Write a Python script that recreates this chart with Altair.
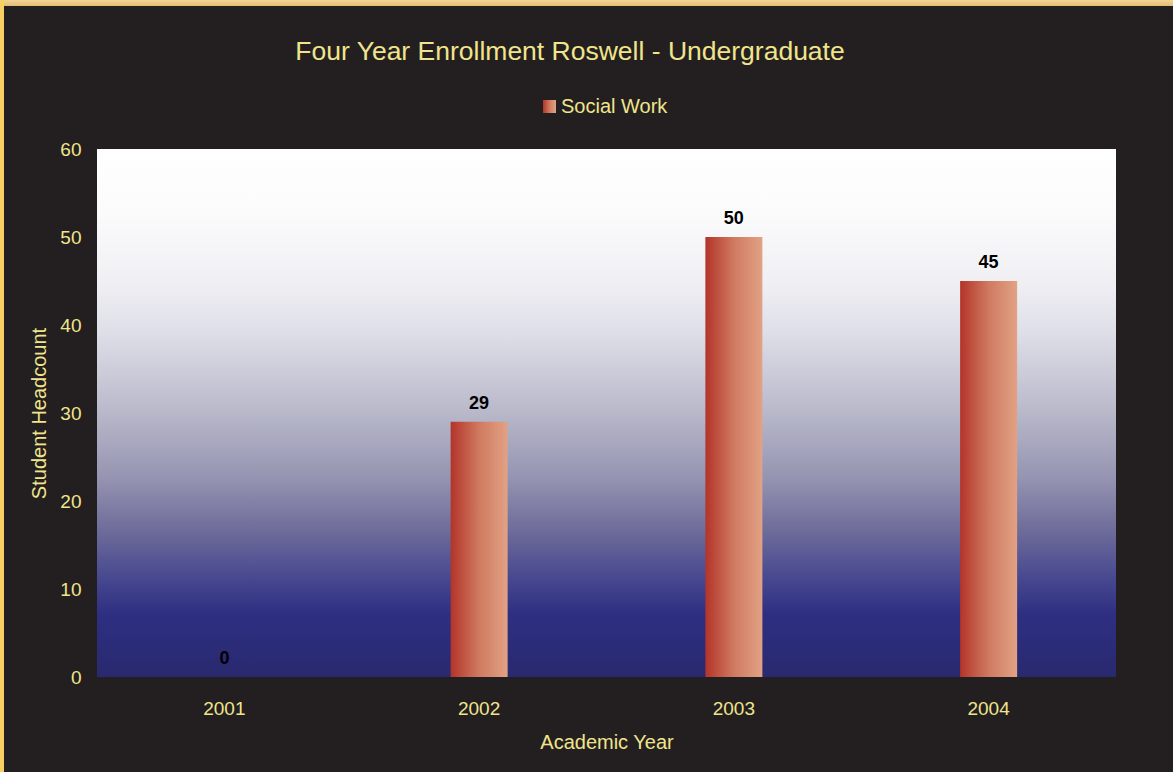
import altair as alt
import pandas as pd

years = ["2001", "2002", "2003", "2004"]
headcount = [0, 29, 50, 45]
series_name = "Social Work"
chart_title = "Four Year Enrollment Roswell - Undergraduate"

df = pd.DataFrame({"year": years, "count": headcount})

W, H = 1019, 528
FONT = "Liberation Sans"
TXT = "#f0e48c"

bg_grad = alt.LinearGradient(
    gradient="linear", x1=0, y1=0, x2=0, y2=1,
    stops=[
        alt.GradientStop(offset=0.0, color="#ffffff"),
        alt.GradientStop(offset=0.12, color="#fbfbfc"),
        alt.GradientStop(offset=0.25, color="#f0f0f4"),
        alt.GradientStop(offset=0.35, color="#dedee8"),
        alt.GradientStop(offset=0.5, color="#b8b8ca"),
        alt.GradientStop(offset=0.62, color="#9695b2"),
        alt.GradientStop(offset=0.72, color="#6f6d9a"),
        alt.GradientStop(offset=0.8, color="#4d4d92"),
        alt.GradientStop(offset=0.88, color="#2e2f82"),
        alt.GradientStop(offset=1.0, color="#29296f"),
    ],
)
bar_grad = alt.LinearGradient(
    gradient="linear", x1=0, y1=0, x2=1, y2=0,
    stops=[
        alt.GradientStop(offset=0.0, color="#b3342a"),
        alt.GradientStop(offset=0.5, color="#cf7a60"),
        alt.GradientStop(offset=1.0, color="#e2a285"),
    ],
)
top_grad = alt.LinearGradient(
    gradient="linear", x1=0, y1=0, x2=0, y2=1,
    stops=[
        alt.GradientStop(offset=0.0, color="#f2d498"),
        alt.GradientStop(offset=1.0, color="#e3bc70"),
    ],
)

base = alt.Chart(df)

plot_bg = base.mark_rect(fill=bg_grad).encode(
    x=alt.value(0), x2=alt.value(W), y=alt.value(0), y2=alt.value(H)
)

xenc = alt.X(
    "year:N", sort=years,
    scale=alt.Scale(paddingInner=0.0, paddingOuter=0.0),
    axis=alt.Axis(title="Academic Year", labelAngle=0, domain=False, ticks=False,
                  labelPadding=22, titlePadding=14, labelColor=TXT, titleColor=TXT,
                  labelFontSize=19, titleFontSize=20, labelFont=FONT, titleFont=FONT,
                  titleFontWeight="normal"),
)
yenc = alt.Y(
    "count:Q", scale=alt.Scale(domain=[0, 60]),
    axis=alt.Axis(title="Student Headcount", values=[0, 10, 20, 30, 40, 50, 60],
                  domain=False, ticks=False, grid=False, labelPadding=16,
                  titlePadding=10, labelColor=TXT, titleColor=TXT,
                  labelFontSize=19, titleFontSize=20, labelFont=FONT, titleFont=FONT,
                  titleFontWeight="normal"),
)

bars = base.mark_bar(fill=bar_grad, size=57).encode(x=xenc, y=yenc)

labels = base.mark_text(
    baseline="bottom", dy=-9, fontWeight="bold", fontSize=18, font=FONT, color="#000000"
).encode(x=alt.X("year:N", sort=years), y="count:Q", text="count:Q")

# decorative frame, title and legend
frame_top = base.mark_rect(fill=top_grad, clip=False).encode(
    x=alt.value(-97), x2=alt.value(1076), y=alt.value(-149), y2=alt.value(-143)
)
frame_left = base.mark_rect(fill="#f7cf63", clip=False).encode(
    x=alt.value(-97), x2=alt.value(-93), y=alt.value(-149), y2=alt.value(623)
)
title_df = pd.DataFrame({"t": [chart_title]})
title_txt = alt.Chart(title_df).mark_text(
    align="center", baseline="middle", fontSize=26.5, font=FONT, color=TXT
).encode(x=alt.value(473), y=alt.value(-97), text="t:N")

legend_df = pd.DataFrame({"label": [series_name]})
leg_sym = alt.Chart(legend_df).mark_rect(fill=bar_grad).encode(
    x=alt.value(446), x2=alt.value(459), y=alt.value(-49), y2=alt.value(-36)
)
leg_txt = alt.Chart(legend_df).mark_text(
    align="left", baseline="middle", fontSize=20, font=FONT, color=TXT
).encode(x=alt.value(464), y=alt.value(-42), text="label:N")

chart = alt.layer(plot_bg, bars, labels, frame_top, frame_left, title_txt, leg_sym, leg_txt).properties(
    width=W, height=H,
    padding={"left": 97, "top": 149, "right": 57, "bottom": 95},
    autosize=alt.AutoSizeParams(type="none"),
    background="#231f20",
).configure_view(stroke=None)

chart.save("out.html", embed_options={"renderer": "svg", "actions": False})
